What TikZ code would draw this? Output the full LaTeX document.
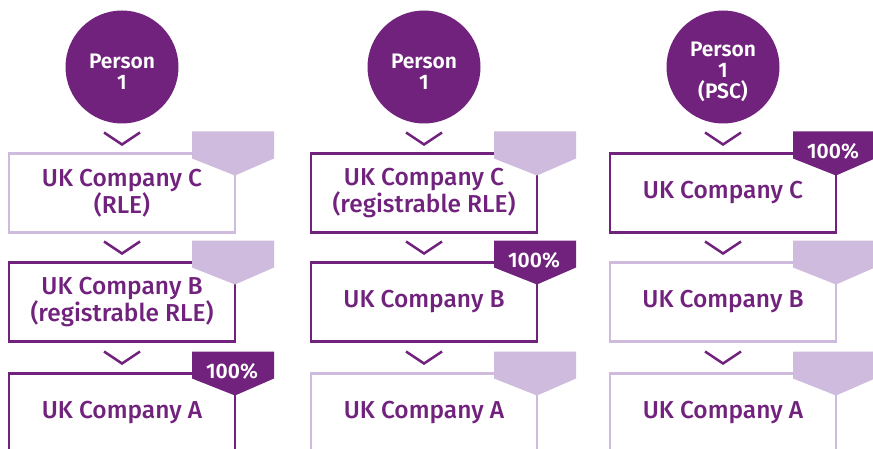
\documentclass[tikz,border=0pt]{standalone}
\usepackage{fontspec}
\setmainfont{Fira Sans}[UprightFont={* Medium},BoldFont={* SemiBold}]
\usetikzlibrary{positioning,decorations.markings}

\definecolor{plum}{RGB}{113,34,125}
\definecolor{lilac}{RGB}{206,187,221}

\begin{document}
\begin{tikzpicture}[
    x=1pt,
    y=1pt,
    node distance=30,
    person/.style={
        circle,
        fill=plum,
        minimum size=113,
        inner sep=0,
        outer sep=0,
        label={[owner]center:#1}
    },
    owner/.style={
        yshift=-5,
        text=white,
        align=center,
        font=\bfseries\fontsize{21}{21}\selectfont
    },
    company/.style={
        draw=plum,
        line width=2.5,
        minimum width=226,
        minimum height=79,
        inner sep=0,
        outer sep=0,
        align=center,
        text=plum,
        font=\fontsize{24.5}{22.5}\selectfont
    },
    faded/.style={
        draw=lilac
    },
    chevron/.style={
        decoration={markings,
            mark=at position 0.5 with {\draw[plum, line width=2.5] (-6,18) -- (6,0) -- (-6,-18);}},
        postaction={decorate}
    },
    share/.style={
        text=white,
        font=\bfseries\fontsize{21}{21}\selectfont
    },
    stake/.pic={
        \path[pic actions] (-43,22) -- (39,22) -- (39,-5) -- (0,-22) -- (-43,-5) -- cycle;
    }
]
\path[use as bounding box, clip] (0,0) rectangle (873,448);

% Owners
\node [person={Person\\1}] (p1) at (122,381) {};
\node [person={Person\\1}] (p2) at (424,381) {};
\node [person={Person\\1\\(PSC)}] (p3) at (723,381) {};

% Chains of companies
\node [company, faded, below=of p1] (c1) {UK Company C\\(RLE)};
\node [company, below=of c1] (b1) {UK Company B\\(registrable RLE)};
\node [company, below=32 of b1] (a1) {UK Company A};

\node [company, below=of p2] (c2) {UK Company C\\(registrable RLE)};
\node [company, below=of c2] (b2) {UK Company B};
\node [company, faded, below=32 of b2] (a2) {UK Company A};

\node [company, below=of p3] (c3) {UK Company C};
\node [company, faded, below=of c3] (b3) {UK Company B};
\node [company, faded, below=32 of b3] (a3) {UK Company A};

% Ownership links
\path [chevron] (p1) -- (c1);
\path [chevron] (c1) -- (b1);
\path [chevron] (b1) -- (a1);
\path [chevron] (p2) -- (c2);
\path [chevron] (c2) -- (b2);
\path [chevron] (b2) -- (a2);
\path [chevron] (p3) -- (c3);
\path [chevron] (c3) -- (b3);
\path [chevron] (b3) -- (a3);

% Shareholding tags
\pic [fill=lilac] at (c1.north east) {stake};
\pic [fill=lilac] at (b1.north east) {stake};
\pic [fill=plum] at (a1.north east) {stake};
\node [share] (s1) at ([shift={(-3,2)}]a1.north east) {100\%};

\pic [fill=lilac] at (c2.north east) {stake};
\pic [fill=plum] at (b2.north east) {stake};
\node [share] (s2) at ([shift={(-3,2)}]b2.north east) {100\%};
\pic [fill=lilac] at (a2.north east) {stake};

\pic [fill=plum] at (c3.north east) {stake};
\node [share] (s3) at ([shift={(-3,2)}]c3.north east) {100\%};
\pic [fill=lilac] at (b3.north east) {stake};
\pic [fill=lilac] at (a3.north east) {stake};

\end{tikzpicture}
\end{document}
